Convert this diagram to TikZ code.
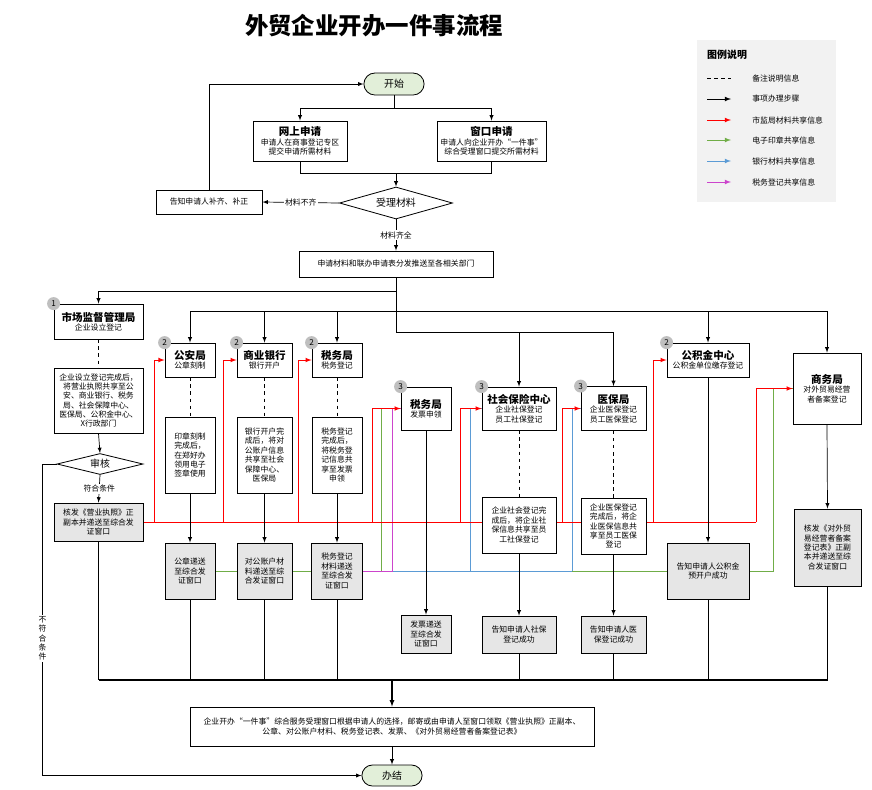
\documentclass[tikz,border=0pt]{standalone}
\usepackage{fontspec}
\setmainfont{Noto Sans CJK SC}
\usepackage{tikz}
\usetikzlibrary{arrows,positioning,backgrounds,shapes.geometric,shapes.misc}
\definecolor{boxgray}{HTML}{E6E6E6}
\definecolor{startgreen}{HTML}{E2EFD9}
\definecolor{legendgray}{HTML}{F2F2F2}
\definecolor{shred}{HTML}{FF0000}
\definecolor{shgreen}{HTML}{70AD47}
\definecolor{shblue}{HTML}{5B9BD5}
\definecolor{shpink}{HTML}{CC44CC}
\newcommand{\hd}[1]{{\fontsize{9pt}{11pt}\selectfont\bfseries #1}}

\begin{document}
\begin{tikzpicture}[
x=0.3mm, y=-0.3mm,
font=\fontsize{6.7pt}{8pt}\selectfont,
>=latex,
sz/.style 2 args={minimum width=#1*0.3mm, minimum height=#2*0.3mm},
box/.style={draw, line width=0.7pt, fill=white, align=center, inner sep=1pt},
outbox/.style={box, fill=boxgray},
term/.style={draw, rounded rectangle, fill=startgreen, line width=0.7pt, font=\fontsize{8.5pt}{10pt}\selectfont},
decide/.style={draw, diamond, aspect=4, fill=white, line width=0.7pt, inner sep=0pt, font=\fontsize{8.5pt}{10pt}\selectfont},
badge/.style={circle, fill=gray!50, inner sep=0pt, minimum size=13*0.3mm, font=\fontsize{7pt}{8pt}\selectfont},
flow/.style={->, line width=0.6pt},
line/.style={line width=0.6pt},
remark/.style={dashed, line width=0.6pt},
share/.style={line width=0.8pt},
lab/.style={fill=white, inner sep=1pt, align=center}
]
    \useasboundingbox (0,0) rectangle (872,789);

    % Title and legend
    \node[font=\fontsize{20pt}{24pt}\selectfont\bfseries] (title) at (374,26) {外贸企业开办一件事流程};
    \node[fill=legendgray, sz={139}{162}, anchor=north west] (legend) at (697,40) {};
    \node[anchor=west, font=\fontsize{8.5pt}{10pt}\selectfont\bfseries] (legtitle) at (703,55) {图例说明};
    \draw[remark] (707,78) -- (731,78) node[anchor=west, xshift=17*0.3mm] (leg0) {备注说明信息};
    \foreach \yy/\c/\txt [count=\i] in {99/black/事项办理步骤, 120/shred/市监局材料共享信息,
        140/shgreen/电子印章共享信息, 161/shblue/银行材料共享信息, 182/shpink/税务登记共享信息}
        \draw[->, line width=0.8pt, \c] (707,\yy) -- (731,\yy)
            node[anchor=west, xshift=17*0.3mm, text=black] (leg\i) {\txt};

    % Application
    \node[term, sz={68}{22}] (start) at (394,84) {开始};
    \node[box, sz={94}{40}] (online) at (300,141) {\hd{网上申请}\\申请人在商事登记专区\\提交申请所需材料};
    \node[box, sz={109}{40}] (window) at (491.5,141) {\hd{窗口申请}\\申请人向企业开办“一件事”\\综合受理窗口提交所需材料};
    \node[decide, sz={113}{32}] (accept) at (396,203) {受理材料};
    \node[box, sz={106}{24}] (notify) at (209,202) {告知申请人补齐、补正};
    \node[box, sz={194}{26}] (dispatch) at (396,264) {申请材料和联办申请表分发推送至各相关部门};

    % Departments
    \node[box, sz={89}{35}] (amr) at (98.5,321.5) {\hd{市场监督管理局}\\企业设立登记};
    \node[box, sz={89}{65}] (amrnote) at (98.5,400.5) {企业设立登记完成后，\\将营业执照共享至公\\安、商业银行、税务\\局、社会保障中心、\\医保局、公积金中心、\\X行政部门};
    \node[decide, sz={86}{21}] (check) at (100,464) {审核};
    \node[outbox, sz={89}{38}] (license) at (98.5,522) {核发《营业执照》正\\副本并递送至综合发\\证窗口};

    \node[box, sz={50}{34}] (psb) at (190,360) {\hd{公安局}\\公章刻制};
    \node[box, sz={50}{76}] (psbnote) at (190,455) {印章刻制\\完成后，\\在郑好办\\领用电子\\签章使用};
    \node[outbox, sz={50}{56}] (psbout) at (190,571) {公章递送\\至综合发\\证窗口};

    \node[box, sz={55}{34}] (bank) at (264.5,360) {\hd{商业银行}\\银行开户};
    \node[box, sz={55}{76}] (banknote) at (264.5,455) {银行开户完\\成后，将对\\公账户信息\\共享至社会\\保障中心、\\医保局};
    \node[outbox, sz={55}{56}] (bankout) at (264.5,571) {对公账户材\\料递送至综\\合发证窗口};

    \node[box, sz={50}{34}] (tax) at (337,360) {\hd{税务局}\\税务登记};
    \node[box, sz={50}{76}] (taxnote) at (337,455) {税务登记\\完成后，\\将税务登\\记信息共\\享至发票\\申领};
    \node[outbox, sz={51}{56}] (taxout) at (337,571) {税务登记\\材料递送\\至综合发\\证窗口};

    \node[box, sz={50}{43}] (invoice) at (426,408.5) {\hd{税务局}\\发票申领};
    \node[outbox, sz={50}{38}] (invout) at (426,634) {发票递送\\至综合发\\证窗口};

    \node[box, sz={74}{43}] (social) at (519,408.5) {\hd{社会保险中心}\\企业社保登记\\员工社保登记};
    \node[box, sz={74}{56}] (socialnote) at (519,525) {企业社会登记完\\成后，将企业社\\保信息共享至员\\工社保登记};
    \node[outbox, sz={74}{37}] (socialout) at (519,634.5) {告知申请人社保\\登记成功};

    \node[box, sz={65}{44}] (medical) at (613.5,408.5) {\hd{医保局}\\企业医保登记\\员工医保登记};
    \node[box, sz={65}{56}] (mednote) at (613.5,526) {企业医保登记\\完成后，将企\\业医保信息共\\享至员工医保\\登记};
    \node[outbox, sz={65}{37}] (medout) at (613.5,634.5) {告知申请人医\\保登记成功};

    \node[box, sz={82}{34}] (fund) at (708,360) {\hd{公积金中心}\\公积金单位缴存登记};
    \node[outbox, sz={82}{56}] (fundout) at (708,571) {告知申请人公积金\\预开户成功};

    \node[box, sz={68}{71}] (commerce) at (827,388.5) {\hd{商务局}\\对外贸易经营\\者备案登记};
    \node[outbox, sz={67}{77}] (comout) at (827.5,547.5) {核发《对外贸\\易经营者备案\\登记表》正副\\本并递送至综\\合发证窗口};

    \node[box, sz={404}{39}] (final) at (392,726.5) {企业开办“一件事”综合服务受理窗口根据申请人的选择，邮寄或由申请人至窗口领取《营业执照》正副本、\\公章、对公账户材料、税务登记表、发票、《对外贸易经营者备案登记表》};
    \node[term, sz={68}{21}] (end) at (392,775.5) {办结};

    % Step badges
    \node[badge] (n1) at (amr.north west) {1};
    \foreach \t in {psb,bank,tax,fund} \node[badge] (n-\t) at (\t.north west) {2};
    \foreach \t in {invoice,social,medical} \node[badge] (n-\t) at (\t.north west) {3};

    % Acceptance
    \coordinate (j1) at (394,108);
    \coordinate (j2) at (396,173);
    \draw[line] (start.south) -- (j1);
    \draw[flow] (j1) -| (online.north);
    \draw[flow] (j1) -| (window.north);
    \draw[line] (online.south) |- (j2);
    \draw[line] (window.south) |- (j2);
    \draw[flow] (j2) -- (accept.north);
    \draw[flow] (accept.west) -- node[lab] {材料不齐} (notify.east);
    \draw[flow] (notify.north) |- (start.west);
    \draw[flow] (accept.south) -- node[lab] {材料齐全} (dispatch.north);

    % Dispatch to departments
    \coordinate (t2) at (396,311);
    \coordinate (t3) at (396,332);
    \draw[flow] (dispatch.south) -- ++(0,14) -| (amr.north);
    \draw[line] (dispatch.south) -- (t3);
    \foreach \t in {psb,bank,tax,fund,commerce} \draw[flow] (t2) -| (\t.north);
    \foreach \t in {social,medical} \draw[flow] (t3) -| (\t.north);

    % Inside each department
    \draw[remark] (amr.south) -- (amrnote.north);
    \draw[flow] (amrnote.south) -- (check.north);
    \draw[flow] (check.south) -- node[lab] {符合条件} (license.north);
    \draw[flow] (check.west) -- ++(-14,0) |- (end.west) node[lab, pos=0.28] {不\\符\\合\\条\\件};
    \foreach \t/\n/\o in {psb/psbnote/psbout, bank/banknote/bankout, tax/taxnote/taxout,
        social/socialnote/socialout, medical/mednote/medout} {
        \draw[remark] (\t.south) -- (\n.north);
        \draw[flow] (\n.south) -- (\o.north);
    }
    \draw[flow] (invoice.south) -- (invout.north);
    \draw[flow] (fund.south) -- (fundout.north);
    \draw[flow] (commerce.south) -- (comout.north);

    % Collect at the window
    \coordinate (m-left) at (99,680);
    \coordinate (m-right) at (828,680);
    \coordinate (m-mid) at (392,680);
    \foreach \o in {license,psbout,bankout,taxout,socialout,medout,fundout,comout}
        \draw[line] (\o.south) -- (\o.south |- m-left);
    \draw[line width=1.2pt] (m-left) -- (m-right);
    \draw[flow, line width=0.9pt] (m-mid) -- (final.north);
    \draw[flow] (final.south) -- (end.north);

    % Shared information
    \begin{scope}[on background layer]
    \coordinate (g-inv) at (381,571);
    \coordinate (g-med) at (572,571);
    \coordinate (g-com) at (773,571);
    \draw[share, shgreen] (psbout.east) -- (g-inv) -- (g-inv |- invoice.west);
    \draw[share, shgreen] (g-med) -- (fundout.west);
    \draw[share, shgreen] (fundout.east) -- (g-com) |- (commerce.west);

    \coordinate (b-start) at (392,571);
    \foreach \x/\t in {470/social,572/medical} {
        \coordinate (b-\t) at (\x,571);
        \draw[share, shblue] (b-\t) |- (\t.west);
    }
    \draw[share, shblue] (b-start) -- (b-medical);

    \draw[share, shpink] (taxout.east) -- (b-start) |- (invoice.west);

    \foreach \x/\t in {154/psb,223/bank,298/tax,372/invoice,460/social,562/medical,653/fund,756/commerce} {
        \coordinate (r-\t) at (\x,522);
        \draw[share, shred, ->] (r-\t) |- (\t.west);
    }
    \draw[share, shred] (license.east) -- (r-commerce);
    \end{scope}

\end{tikzpicture}
\end{document}
